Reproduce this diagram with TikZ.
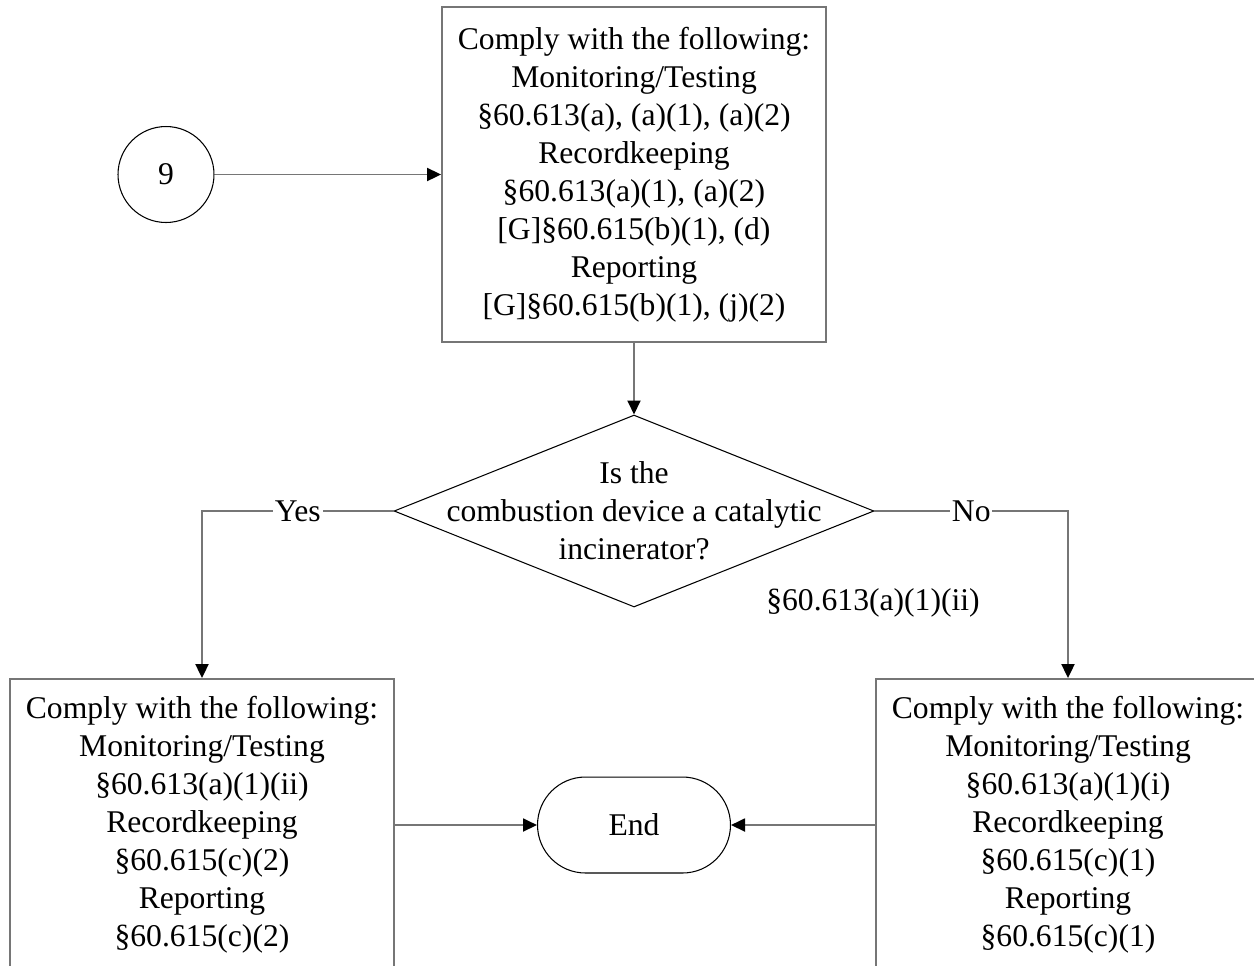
\documentclass[tikz,border=0pt]{standalone}
\usepackage{fontspec}
\setmainfont{Liberation Serif}
\usetikzlibrary{positioning, shapes.geometric, shapes.misc, arrows.meta}
\definecolor{linegray}{RGB}{118,118,118}

\begin{document}
\begin{tikzpicture}[x=0.02cm, y=-0.02cm,
  every node/.style={font=\fontsize{18}{21.6}\selectfont},
  box/.style={draw=linegray, line width=1.1pt, minimum width=7.68cm, inner sep=0, align=center},
  connector/.style={draw=linegray, line width=1.1pt, -{Triangle[length=0.28cm, width=0.26cm, color=black]}},
  tag/.style={fill=white, inner sep=1pt}]
\useasboundingbox (0,0) rectangle (1254,965);
\node[box, minimum height=6.7cm] (comply) at (634,174.5)
  {Comply with the following:\\Monitoring/Testing\\\S60.613(a), (a)(1), (a)(2)\\Recordkeeping\\\S60.613(a)(1), (a)(2)\\{[G]}\S60.615(b)(1), (d)\\Reporting\\{[G]}\S60.615(b)(1), (j)(2)};
\node[draw, circle, line width=0.6pt, minimum size=1.92cm, inner sep=0] (nine) at (166,174.5) {9};
\node[draw, diamond, line width=0.6pt, minimum width=9.6cm, minimum height=3.84cm, inner sep=0] (catalytic) at (634,511) {};
\node[align=center] (question) at (catalytic.center) {Is the\\combustion device a catalytic\\incinerator?};
\node (cite) at (873,603) {\S60.613(a)(1)(ii)};
\node[box, minimum height=5.84cm] (yesbox) at (202,825)
  {Comply with the following:\\Monitoring/Testing\\\S60.613(a)(1)(ii)\\Recordkeeping\\\S60.615(c)(2)\\Reporting\\\S60.615(c)(2)};
\node[box, minimum height=5.84cm] (nobox) at (1068,825)
  {Comply with the following:\\Monitoring/Testing\\\S60.613(a)(1)(i)\\Recordkeeping\\\S60.615(c)(1)\\Reporting\\\S60.615(c)(1)};
\node[draw, rounded rectangle, line width=0.6pt, minimum width=3.86cm, minimum height=1.92cm, inner sep=0] (end) at (634,825) {End};
% connectors
\draw[connector] (nine) -- (comply);
\draw[connector] (comply) -- (catalytic);
\draw[connector] (catalytic.west) -| node[tag, pos=0.25] {Yes} (yesbox.north);
\draw[connector] (catalytic.east) -| node[tag, pos=0.25] {No} (nobox.north);
\draw[connector] (yesbox) -- (end);
\draw[connector] (nobox) -- (end);
\end{tikzpicture}
\end{document}
